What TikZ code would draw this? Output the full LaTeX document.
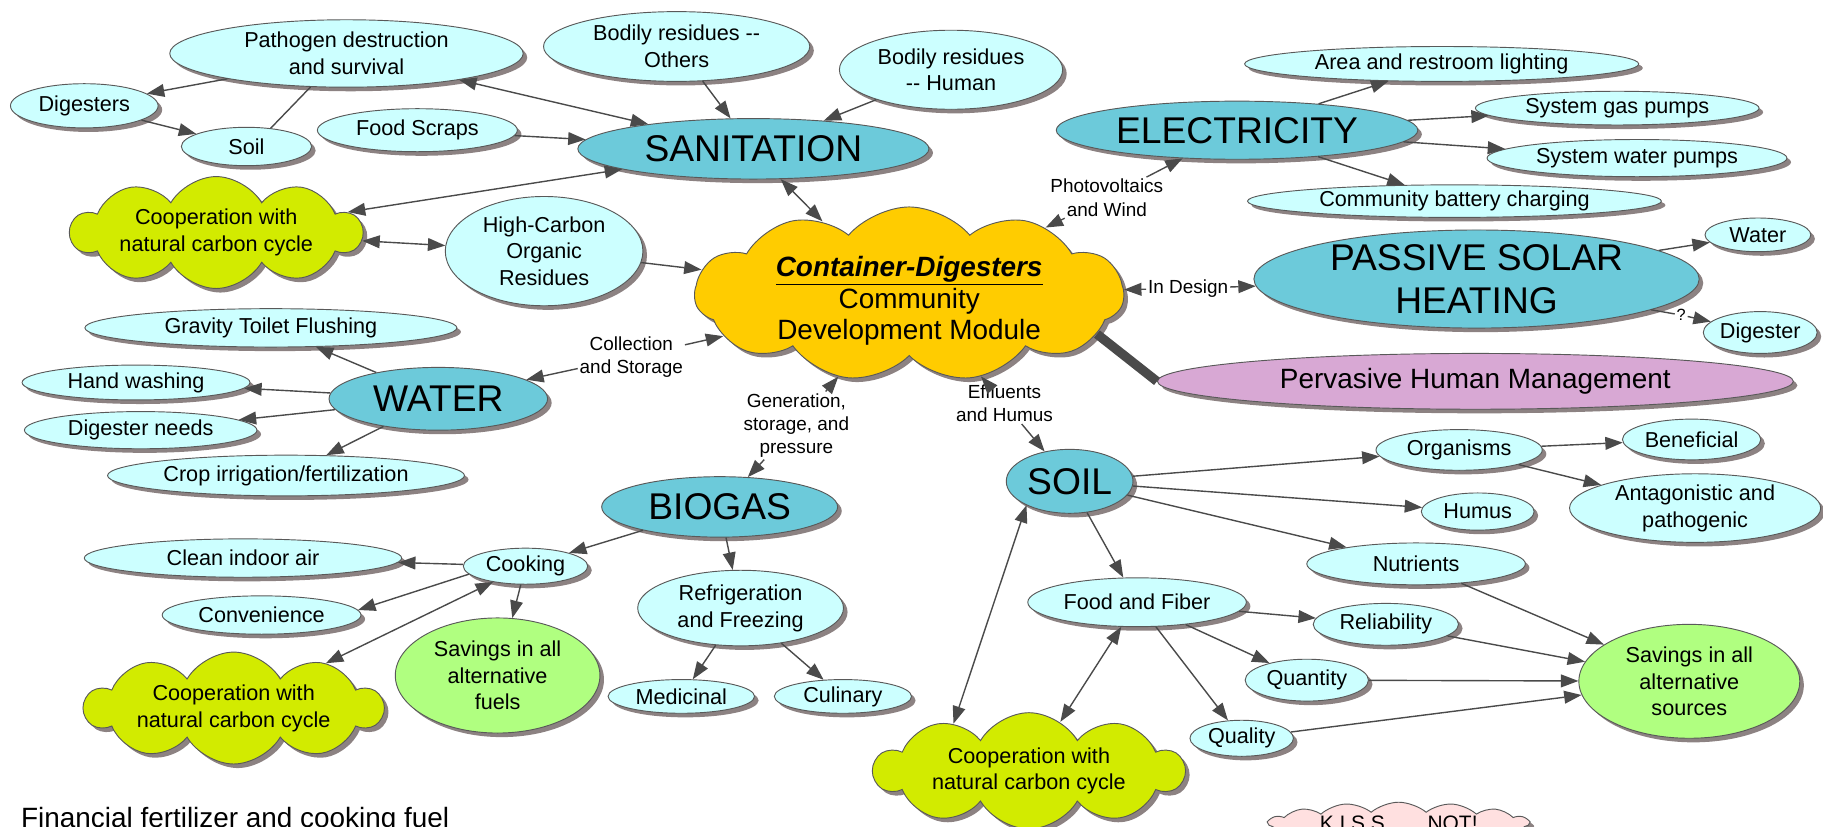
\documentclass[tikz,border=0pt]{standalone}
\usepackage{fontspec}
\setmainfont{Liberation Sans}
\usepackage{tikz}
\usetikzlibrary{arrows.meta,shapes.geometric,shapes.symbols,shadows}

\definecolor{leafcyan}{HTML}{CCFFFF}
\definecolor{mainteal}{HTML}{6CCADA}
\definecolor{coopgreen}{HTML}{D2EB00}
\definecolor{hubyellow}{HTML}{FFCC00}
\definecolor{savegreen}{HTML}{B0FF80}
\definecolor{humanpink}{HTML}{D8A8D4}
\definecolor{kisspink}{HTML}{FFE0E0}
\definecolor{shadegray}{HTML}{8C8282}
\definecolor{linkgray}{HTML}{4A4A4A}

\begin{document}
\begin{tikzpicture}[->,>={Triangle[length=15pt,width=11pt]},x=1pt,y=-1pt,
  every edge/.style={draw=linkgray,line width=1.2pt},
  concept/.style={ellipse,draw=black!65,line width=0.8pt,inner sep=0pt,align=center,
    drop shadow={shadow xshift=3.5pt,shadow yshift=-3.5pt,fill=shadegray,opacity=1}},
  leaf node/.style={concept,fill=leafcyan,font=\fontsize{18.6}{23}\selectfont},
  main node/.style={concept,fill=mainteal,font=\fontsize{32}{37}\selectfont},
  savings node/.style={leaf node,fill=savegreen},
  coop node/.style={leaf node,cloud,cloud puffs=10,cloud puff arc=120,cloud ignores aspect,fill=coopgreen},
  link node/.style={font=\fontsize{16.3}{20}\selectfont,align=center,inner sep=1.5pt}]

  \useasboundingbox (0,0) rectangle (1568,711.3);
  \clip (0,0) rectangle (1568,711.3);

  % hub
  \node[concept,cloud,cloud puffs=11,cloud puff arc=100,cloud ignores aspect,fill=hubyellow,
    inner ysep=-15pt,minimum width=369pt,minimum height=150pt,font=\fontsize{24}{27}\selectfont] (hub) at (782,253)
    {\raisebox{-6pt}[\height][\depth]{\underline{\textbf{\textit{Container-Digesters}}}}\\
     \raisebox{-6pt}[\height][\depth]{Community}\\
     \raisebox{-6pt}[\height][\depth]{Development Module}};

  % sanitation
  \node[main node,minimum width=302pt,minimum height=52pt] (sanitation) at (648,128) {SANITATION};
  \node[leaf node,minimum width=127pt,minimum height=38pt] (digesters) at (72.5,91) {Digesters};
  \node[leaf node,minimum width=304pt,minimum height=58pt] (pathogen) at (298,46) {Pathogen destruction\\and survival};
  \node[leaf node,minimum width=112pt,minimum height=33pt] (soilleaf) at (212,126) {Soil};
  \node[leaf node,minimum width=172pt,minimum height=37pt] (food) at (359,112) {Food Scraps};
  \node[leaf node,minimum width=229pt,minimum height=60pt] (others) at (582,40) {Bodily residues -{}-\\Others};
  \node[leaf node,minimum width=192pt,minimum height=68pt] (human) at (818,60) {Bodily residues\\-{}- Human};
  \node[coop node,minimum width=250pt,minimum height=96pt] (cooptop) at (186,200) {Cooperation with\\natural carbon cycle};
  \node[leaf node,minimum width=170pt,minimum height=94pt] (carbon) at (468,216) {High-Carbon\\Organic\\Residues};

  % electricity and solar
  \node[main node,minimum width=311pt,minimum height=50pt] (electricity) at (1064,112) {ELECTRICITY};
  \node[leaf node,minimum width=339pt,minimum height=30pt] (lighting) at (1240,55) {Area and restroom lighting};
  \node[leaf node,minimum width=244pt,minimum height=29pt] (gaspumps) at (1391,93) {System gas pumps};
  \node[leaf node,minimum width=258pt,minimum height=32pt] (waterpumps) at (1408,136) {System water pumps};
  \node[leaf node,minimum width=356pt,minimum height=28pt] (battery) at (1251,173) {Community battery charging};
  \node[main node,minimum width=383pt,minimum height=84pt] (solar) at (1270,240) {PASSIVE SOLAR\\HEATING};
  \node[leaf node,minimum width=91pt,minimum height=29pt] (solarwater) at (1512,202) {Water};
  \node[leaf node,minimum width=92pt,minimum height=36pt] (solardigester) at (1514,286) {Digester};
  \node[concept,fill=humanpink,minimum width=547pt,minimum height=48pt,font=\fontsize{24}{28}\selectfont] (management) at (1269,328) {Pervasive Human Management};

  % water
  \node[main node,minimum width=188pt,minimum height=54pt] (water) at (377,343) {WATER};
  \node[leaf node,minimum width=320pt,minimum height=33pt] (flushing) at (233,282) {Gravity Toilet Flushing};
  \node[leaf node,minimum width=196pt,minimum height=30pt] (handwash) at (117,329) {Hand washing};
  \node[leaf node,minimum width=200pt,minimum height=32pt] (digneeds) at (121,370) {Digester needs};
  \node[leaf node,minimum width=307pt,minimum height=35pt] (irrigation) at (246,409) {Crop irrigation/fertilization};

  % biogas
  \node[main node,minimum width=203pt,minimum height=52pt] (biogas) at (619,436) {BIOGAS};
  \node[leaf node,minimum width=107pt,minimum height=31pt] (cooking) at (452,487) {Cooking};
  \node[leaf node,minimum width=273pt,minimum height=33pt] (cleanair) at (209,480) {Clean indoor air};
  \node[leaf node,minimum width=171pt,minimum height=33pt] (convenience) at (225,529) {Convenience};
  \node[coop node,minimum width=256pt,minimum height=80pt] (coopleft) at (201,609) {Cooperation with\\natural carbon cycle};
  \node[savings node,minimum width=176pt,minimum height=99pt] (fuels) at (428,581) {Savings in all\\alternative\\fuels};
  \node[leaf node,minimum width=177pt,minimum height=65pt] (fridge) at (637,523) {Refrigeration\\and Freezing};
  \node[leaf node,minimum width=126pt,minimum height=29pt] (medicinal) at (586,599) {Medicinal};
  \node[leaf node,minimum width=118pt,minimum height=29pt] (culinary) at (725,599) {Culinary};

  % soil
  \node[main node,minimum width=109pt,minimum height=55pt] (soil) at (920,414) {SOIL};
  \node[leaf node,minimum width=143pt,minimum height=35pt] (organisms) at (1255,387) {Organisms};
  \node[leaf node,minimum width=119pt,minimum height=35pt] (beneficial) at (1455,378) {Beneficial};
  \node[leaf node,minimum width=216pt,minimum height=59pt] (antagonistic) at (1458,437) {Antagonistic and\\pathogenic};
  \node[leaf node,minimum width=97pt,minimum height=32pt] (humus) at (1271,440) {Humus};
  \node[leaf node,minimum width=188pt,minimum height=36pt] (nutrients) at (1218,485) {Nutrients};
  \node[leaf node,minimum width=188pt,minimum height=42pt] (fiber) at (978,518) {Food and Fiber};
  \node[leaf node,minimum width=125pt,minimum height=36pt] (reliability) at (1192,537) {Reliability};
  \node[leaf node,minimum width=106pt,minimum height=36pt] (quantity) at (1124,585) {Quantity};
  \node[leaf node,minimum width=89pt,minimum height=31pt] (quality) at (1068,635) {Quality};
  \node[savings node,minimum width=190pt,minimum height=98pt] (sources) at (1453,586) {Savings in all\\alternative\\sources};
  \node[coop node,minimum width=266pt,minimum height=100pt] (coopsoil) at (885,663) {Cooperation with\\natural carbon cycle};

  \node[concept,cloud,cloud puffs=15,cloud puff arc=80,cloud ignores aspect,fill=kisspink,
    minimum width=224pt,minimum height=36pt,font=\fontsize{18}{20}\selectfont] (kiss) at (1203,708) {K.I.S.S. .... NOT!};
  \node[anchor=base west,inner sep=0pt,font=\fontsize{24}{28}\selectfont] (caption) at (18,712) {Financial fertilizer and cooking fuel};

  % linking phrases
  \node[link node] (pvlink) at (952,170) {Photovoltaics\\and Wind};
  \node[link node] (designlink) at (1022,248) {In Design};
  \node[link node,font=\fontsize{14}{16}\selectfont] (querylink) at (1446,271) {?};
  \node[link node] (storagelink) at (543,307) {Collection\\and Storage};
  \node[link node] (gaslink) at (685,366) {Generation,\\storage, and\\pressure};
  \node[link node] (humuslink) at (864,347) {Effluents\\and Humus};

  \path
    (pathogen.192) edge (digesters.11)
    (digesters) edge (soilleaf)
    (pathogen.223) edge[-] (soilleaf.37)
    (pathogen) edge[<->] (sanitation)
    (others) edge (sanitation)
    (human) edge (sanitation)
    (food) edge (sanitation)
    (sanitation) edge[<->] (cooptop)
    (cooptop) edge[<->] (carbon)
    (carbon) edge (hub)
    (sanitation.-48) edge[<->] (hub.140);

  \path
    (electricity) edge (lighting)
    (electricity) edge (gaspumps)
    (electricity) edge (waterpumps)
    (electricity) edge (battery)
    (pvlink) edge (electricity)
    (pvlink) edge (hub)
    (designlink) edge (hub)
    (designlink) edge (solar)
    (solar) edge (solarwater)
    (solar) edge[-] (querylink)
    (querylink) edge (solardigester)
    (hub.-12) edge[-,line width=8pt] (management.west);

  \path
    (storagelink) edge (hub)
    (storagelink) edge (water)
    (water) edge (flushing)
    (water) edge (handwash)
    (water) edge (digneeds)
    (water) edge (irrigation)
    (gaslink) edge (hub)
    (gaslink) edge (biogas)
    (biogas) edge (cooking)
    (biogas) edge (fridge)
    (cooking) edge (cleanair)
    (cooking.188) edge (convenience.3)
    (cooking) edge (fuels)
    (cooking) edge[<->] (coopleft)
    (fridge) edge (medicinal)
    (fridge) edge (culinary);

  \path
    (humuslink) edge (hub)
    (humuslink) edge (soil)
    (soil) edge (organisms)
    (soil) edge (humus)
    (soil) edge (nutrients)
    (soil) edge (fiber)
    (soil.209) edge[<->] (coopsoil.148)
    (organisms) edge (beneficial)
    (organisms) edge (antagonistic)
    (fiber) edge (reliability)
    (fiber) edge (quantity)
    (fiber) edge (quality)
    (fiber) edge[<->] (coopsoil)
    (nutrients) edge (sources)
    (reliability) edge (sources)
    (quantity) edge (sources)
    (quality) edge (sources);
\end{tikzpicture}
\end{document}
